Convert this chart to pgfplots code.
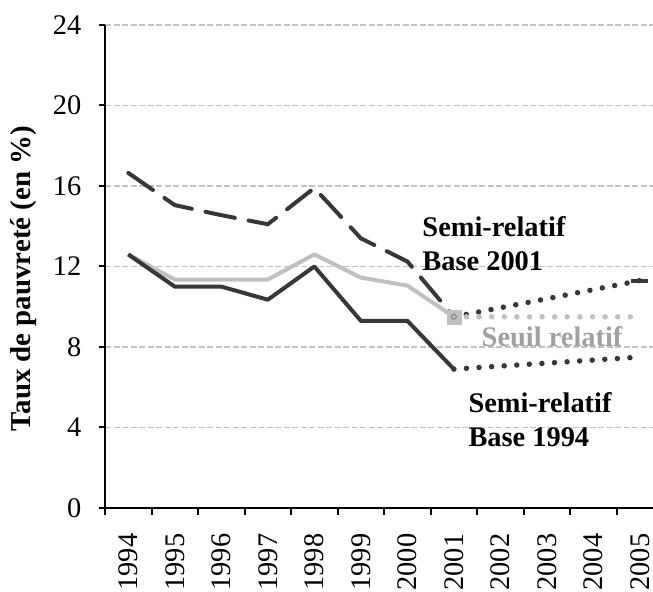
\documentclass[border=0pt]{standalone}
\usepackage{fontspec}
\setmainfont{Liberation Serif}
\usepackage{pgfplots}
\pgfplotsset{compat=1.18}
\definecolor{darkln}{RGB}{55,55,55}
\definecolor{lightln}{RGB}{192,192,192}
\definecolor{gridc}{RGB}{195,195,195}
\definecolor{txtgray}{RGB}{160,160,160}
\definecolor{mkgray}{RGB}{120,120,120}
\pgfplotsset{
  dotln/.style={line width=5.5bp,dash pattern=on 0bp off 12.6bp,line cap=round},
}

\begin{document}
\begin{tikzpicture}
\useasboundingbox (0,0) rectangle (653bp,592bp);
\begin{axis}[at={(105bp,84bp)},anchor=south west,
  scale only axis,width=548bp,height=483bp,
  xmin=1993.5,xmax=2005.28,ymin=0,ymax=24,clip=false,
  axis x line=bottom,axis y line=left,
  axis line style={-,black,line width=2.5bp},
  ytick={0,4,...,24},
  xtick={1993.5,1994.5,...,2004.5},xticklabels={},
  extra x ticks={1994,...,2005},
  extra x tick style={major tick length=0pt,
    xticklabel style={rotate=90,anchor=east}},
  tick align=outside,major tick length=6.5bp,
  tick style={black,line width=2bp},
  ymajorgrids,major grid style={gridc,line width=1.5bp,dash pattern=on 6bp off 2.5bp},
  /pgf/number format/assume math mode=true,
  /pgf/number format/set thousands separator={},
  tick label style={font=\fontsize{28.5}{28.5}\selectfont,inner sep=0pt},
  xticklabel shift=25.5bp,yticklabel shift=17bp,
]
\addplot[darkln,line width=4bp,dash pattern=on 30bp off 14bp,line cap=round] coordinates {
  (1994,16.65) (1995,15.05) (1996,14.55) (1997,14.1) (1998,15.9) (1999,13.4) (2000,12.25) (2001,9.5)};
\addplot[darkln,dotln] coordinates {(2001,9.5) (2005,11.3)};
\addplot[darkln,only marks,mark=-,mark size=8.5bp,mark options={line width=4bp}] coordinates {(2005,11.3)};
\addplot[lightln,dotln] coordinates {(2001,9.5) (2005,9.5)};
\addplot[lightln,line width=4bp,line join=round] coordinates {
  (1994,12.6) (1995,11.35) (1996,11.35) (1997,11.35) (1998,12.6) (1999,11.45) (2000,11.05) (2001,9.5)};
\addplot[darkln,line width=4bp,line join=round] coordinates {
  (1994,12.6) (1995,11.0) (1996,11.0) (1997,10.35) (1998,12.0) (1999,9.3) (2000,9.3) (2001,6.9)};
\addplot[darkln,dotln] coordinates {(2001,6.9) (2005,7.5)};
\addplot[only marks,mark=square*,mark size=7bp,mark options={fill=lightln,draw=lightln}] coordinates {(2001,9.5)};
\addplot[only marks,mark=o,mark size=2.5bp,mark options={draw=mkgray,line width=0.8bp}] coordinates {(2001,9.5)};
\node[anchor=west,align=left,inner sep=0pt,font=\fontsize{28.5}{34}\selectfont\bfseries]
  at (axis cs:2000.32,13.13) {Semi-relatif\\Base 2001};
\node[inner sep=0pt,text=txtgray,font=\fontsize{28.5}{34}\selectfont\bfseries]
  at (axis cs:2003.11,8.5) {Seuil relatif};
\node[anchor=west,align=left,inner sep=0pt,font=\fontsize{28.5}{34}\selectfont\bfseries]
  at (axis cs:2001.31,4.38) {Semi-relatif\\Base 1994};
\node[rotate=90,inner sep=0pt,font=\fontsize{29}{29}\selectfont\bfseries]
  at (axis cs:1991.74,11.4) {Taux de pauvreté (en \%)};
\end{axis}
\end{tikzpicture}
\end{document}
